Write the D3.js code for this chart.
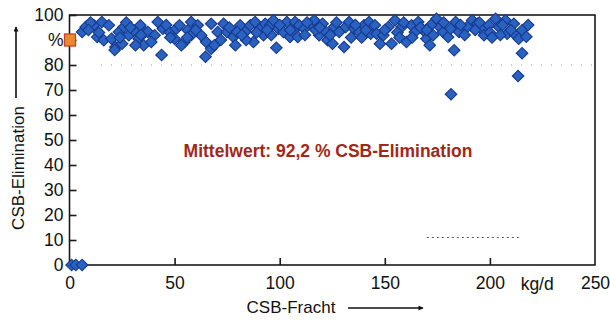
<!DOCTYPE html>
<html>
<head>
<meta charset="utf-8">
<script src="https://cdn.jsdelivr.net/npm/d3@7"></script>
<style>
  body { margin: 0; background: #fff; }
  svg text { font-family: "Liberation Sans", Arial, Helvetica, sans-serif; }
</style>
</head>
<body>
<div id="chart"></div>
<script>
// CSB-Fracht (kg/d) and CSB-Elimination (%) per measurement
const frachtKg = [
  6, 7.7, 11.6, 15.4, 18.7, 13.2, 16.3, 20, 21.9, 21.5, 23.5, 25.8, 28.2, 30.6, 32.9, 35.3, 31.4, 25, 33.7, 36.1,
  37.3, 42, 40.5, 43.8, 44.4, 47.6, 50.8, 52.3, 50, 54.7, 56.3, 57.9, 61, 62.6, 65, 64.7, 67.4, 68.9, 67.4, 70.5, 53.2, 38.9,
  73.3, 74.9, 78, 78.9, 81.2, 83.6, 86, 87.5, 88.3, 90.7, 93.1, 95.5, 97, 98.4, 99.4, 101.8, 103.4, 104.9, 107.3, 107.3, 92.3, 79.7,
  109.3, 108.6, 111.7, 114.9, 116.4, 118.8, 121.2, 122.8, 125.1, 125.9, 128.3, 130.6, 131.4, 133, 135.4, 137.8, 140.1, 142.5, 143.3, 120.4,
  145.3, 146.1, 149.3, 147.7, 151.7, 154.8, 153.2, 158, 160.3, 162.7, 165.9, 168.3, 169.8, 171.4, 173, 174.6, 176.1, 177.7, 180.1, 164.3,
  181.3, 183.7, 185.3, 183, 189.2, 191.6, 194, 196.4, 197.2, 199.5, 202.7, 204.3, 207.4, 208.2, 211.4, 212.2, 215.3, 213.7, 218.2, 217.3,
  10, 14, 27, 34, 46, 58, 60, 72, 76, 84, 89, 96, 100, 105, 112, 117, 124, 127, 134, 139, 141, 150, 156, 159, 163, 167, 172, 178,
  186, 188, 193, 200, 205, 210, 9, 24, 29, 48, 56, 82, 94, 113, 119, 136, 157, 170, 195, 201, 206,
  181.5, 213.4, 215.3,
  1, 3, 6
];
const eliminationPct = [
  93.2, 95.2, 95.9, 97.2, 95.9, 91.2, 89.9, 90.5, 87.2, 86, 93.2, 95.2, 91.9, 93.9, 90.5, 87.9, 87.9, 88.5, 95.9, 93.2,
  93.2, 97.2, 91.9, 84, 94.5, 93.2, 94.5, 95.9, 90.5, 89.2, 93.9, 97.2, 95.9, 91.9, 89.2, 83.3, 86.5, 87.9, 96.5, 93.2, 87.9, 89.2,
  96.5, 93.2, 91.2, 87.9, 95.9, 93.2, 95.9, 89.2, 97.2, 94.5, 96.5, 95.9, 97.9, 86.9, 94.5, 93.2, 97.2, 91.2, 94.5, 97.2, 91.9, 93.2,
  95.9, 91.2, 94.5, 96.5, 97.9, 91.9, 93.9, 89.9, 88.5, 95.2, 93.2, 87.2, 95.2, 97.2, 94.5, 93.2, 95.9, 97.2, 92.5, 96.5,
  95.9, 92.5, 91.9, 88.5, 95.2, 97.9, 88.5, 95.2, 89.2, 95.9, 97.2, 93.9, 90.5, 87.9, 91.9, 98.5, 95.2, 93.2, 91.2, 93.2,
  94.5, 97.2, 93.2, 85.9, 95.2, 97.9, 96.5, 93.9, 91.9, 95.9, 98.5, 95.2, 97.9, 92.5, 96.5, 91.9, 93.9, 90.5, 96, 91.3,
  97, 93, 97, 92, 96, 92, 94, 90, 95, 90, 93, 92, 96, 94, 92, 94, 92, 97, 91, 91, 94, 94, 93, 97, 91, 95, 96, 97,
  96, 92, 94, 93, 92, 94, 94, 91, 95, 91, 91, 92, 94, 97, 95, 96, 91, 94, 97, 91, 96,
  68.3, 75.6, 84.7,
  0, 0, 0
];

const meanValue = 90;          // orange marker on the y axis
const meanText = "Mittelwert: 92,2 % CSB-Elimination";
const yTicks = [0, 10, 20, 30, 40, 50, 60, 70, 80, 90, 100];
const yTickLabels = ["0", "10", "20", "30", "40", "50", "60", "70", "80", "%", "100"];
const xTicks = [0, 50, 100, 150, 200, 250];
const xUnitLabel = "kg/d";
const xUnitPos = 222.5;

const width = 610;
const height = 325;
const margin = { top: 15, right: 15, bottom: 60, left: 69.5 };

const svg = d3.select("#chart")
  .append("svg")
  .attr("width", width)
  .attr("height", height);

const x = d3.scaleLinear().domain([0, 250]).range([margin.left, width - margin.right]);
const y = d3.scaleLinear().domain([0, 100]).range([height - margin.bottom, margin.top]);

// faint dotted lines from the scan
svg.append("line")
  .attr("x1", x(15)).attr("x2", x(249))
  .attr("y1", y(80)).attr("y2", y(80))
  .attr("stroke", "#9aa0aa")
  .attr("stroke-width", 1)
  .attr("stroke-dasharray", "1,9");
svg.append("line")
  .attr("x1", x(170)).attr("x2", x(214))
  .attr("y1", y(11)).attr("y2", y(11))
  .attr("stroke", "#555")
  .attr("stroke-width", 1)
  .attr("stroke-dasharray", "2,3");

// frame
svg.append("rect")
  .attr("x", x(0))
  .attr("y", y(100))
  .attr("width", x(250) - x(0))
  .attr("height", y(0) - y(100))
  .attr("fill", "none")
  .attr("stroke", "#1a1a1a")
  .attr("stroke-width", 1.6);

// y axis
const yAxis = d3.axisLeft(y)
  .tickValues(yTicks)
  .tickSize(-7)
  .tickPadding(6)
  .tickFormat((d, i) => yTickLabels[i]);
const gy = svg.append("g")
  .attr("transform", `translate(${x(0)},0)`)
  .call(yAxis);
gy.select(".domain").remove();
gy.selectAll(".tick line").attr("stroke", "#1a1a1a").attr("stroke-width", 1.6);
gy.selectAll(".tick text")
  .attr("font-size", "17.5px")
  .attr("fill", "#111")
  .attr("font-family", "Liberation Sans, Arial, sans-serif");

// x axis
const xAxis = d3.axisBottom(x)
  .tickValues(xTicks)
  .tickSize(-7)
  .tickPadding(12)
  .tickFormat(d3.format("d"));
const gx = svg.append("g")
  .attr("transform", `translate(0,${y(0)})`)
  .call(xAxis);
gx.select(".domain").remove();
gx.selectAll(".tick line")
  .attr("stroke", "#1a1a1a")
  .attr("stroke-width", 1.6)
  .attr("display", (d) => (d === 0 || d === 250 ? "none" : null));
gx.selectAll(".tick text")
  .attr("font-size", "17.5px")
  .attr("fill", "#111")
  .attr("font-family", "Liberation Sans, Arial, sans-serif");

svg.append("text")
  .attr("x", x(xUnitPos))
  .attr("y", y(0) + 24.5)
  .attr("text-anchor", "middle")
  .attr("font-size", "17.5px")
  .attr("fill", "#111")
  .text(xUnitLabel);

// data points as diamonds
const diamond = d3.symbol().type(d3.symbolSquare).size(66);
const points = frachtKg.map((v, i) => ({ fr: v, el: eliminationPct[i] }));

svg.append("g")
  .selectAll("path")
  .data(points)
  .enter()
  .append("path")
  .attr("d", diamond)
  .attr("transform", (d) => `translate(${x(d.fr)},${y(d.el)}) rotate(45)`)
  .attr("fill", "#2a62c2")
  .attr("stroke", "#173b8e")
  .attr("stroke-width", 1.2);

// mean marker on the axis
svg.append("rect")
  .attr("x", x(0) - 5)
  .attr("y", y(meanValue) - 6)
  .attr("width", 11)
  .attr("height", 12)
  .attr("fill", "#ea8a2e")
  .attr("stroke", "#c8402a")
  .attr("stroke-width", 1.3);

// annotation
svg.append("text")
  .attr("x", 328)
  .attr("y", 157)
  .attr("text-anchor", "middle")
  .attr("font-size", "17.5px")
  .attr("font-weight", "bold")
  .attr("fill", "#a3261a")
  .text(meanText);

// axis titles with arrows
svg.append("defs").append("marker")
  .attr("id", "arrow")
  .attr("viewBox", "0 0 10 10")
  .attr("refX", 9)
  .attr("refY", 5)
  .attr("markerWidth", 7)
  .attr("markerHeight", 5)
  .attr("markerUnits", "userSpaceOnUse")
  .attr("orient", "auto")
  .append("path")
  .attr("d", "M0,0 L10,5 L0,10 Z")
  .attr("fill", "#111");

svg.append("text")
  .attr("transform", "translate(24,168) rotate(-90)")
  .attr("text-anchor", "middle")
  .attr("font-size", "17px")
  .attr("fill", "#111")
  .text("CSB-Elimination");

svg.append("line")
  .attr("x1", 16).attr("x2", 16)
  .attr("y1", 98).attr("y2", 27)
  .attr("stroke", "#111")
  .attr("stroke-width", 1.6)
  .attr("marker-end", "url(#arrow)");

svg.append("text")
  .attr("x", 291)
  .attr("y", 313)
  .attr("text-anchor", "middle")
  .attr("font-size", "17px")
  .attr("fill", "#111")
  .text("CSB-Fracht");

svg.append("line")
  .attr("x1", 348).attr("x2", 423)
  .attr("y1", 308).attr("y2", 308)
  .attr("stroke", "#111")
  .attr("stroke-width", 1.6)
  .attr("marker-end", "url(#arrow)");
</script>
</body>
</html>
